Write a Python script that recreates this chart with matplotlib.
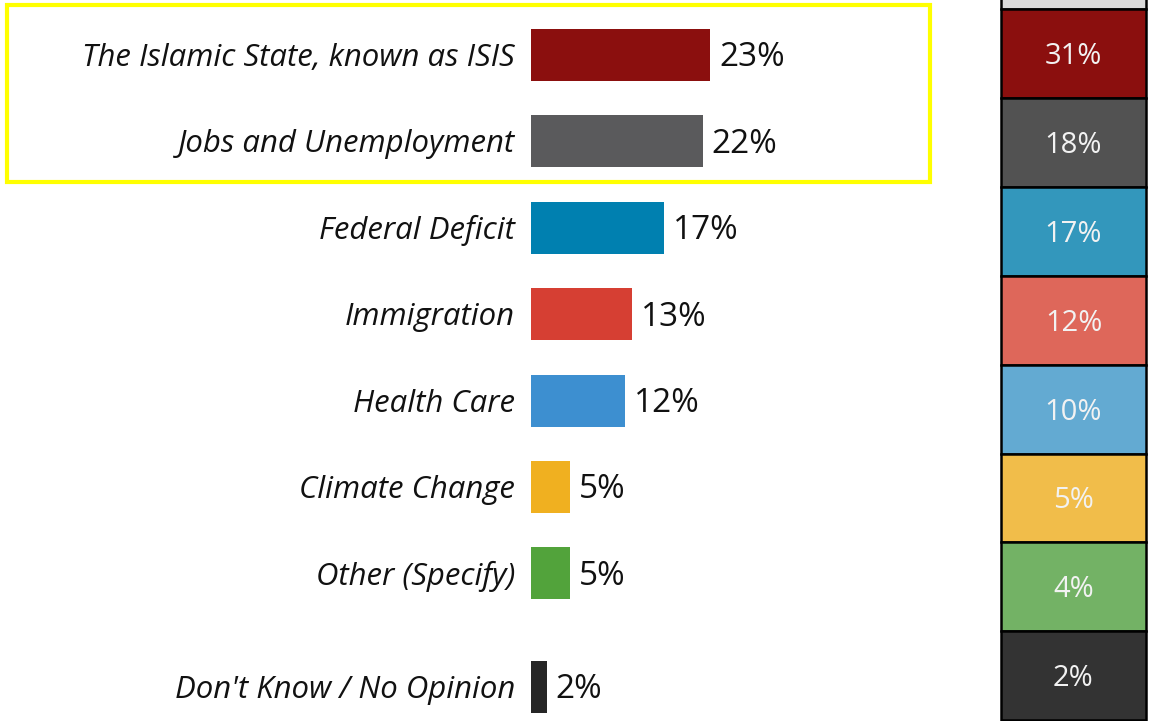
import matplotlib.pyplot as plt
from matplotlib.patches import Rectangle

plt.rcParams['font.family'] = ['Open Sans', 'DejaVu Sans']

# left chart: most important issue
issues = ["The Islamic State, known as ISIS", "Jobs and Unemployment",
          "Federal Deficit", "Immigration", "Health Care",
          "Climate Change", "Other (Specify)", "Don't Know / No Opinion"]
shares = [23, 22, 17, 13, 12, 5, 5, 2]
bar_colors = ["#8B0F0E", "#5A5A5C", "#0080B0", "#D63F33",
              "#3D8FD0", "#F0B020", "#52A33B", "#262626"]

# right column: earlier survey
prev_shares = [31, 18, 17, 12, 10, 5, 4, 2]
prev_colors = ["#8B0F0E", "#525252", "#3397BC", "#DE675A",
               "#63AAD2", "#F1BD4A", "#73B265", "#333333"]

W, H = 1149, 721
fig = plt.figure(figsize=(W / 100, H / 100), dpi=100)

# row positions, last row sits a bit lower
rows = [0, 1, 2, 3, 4, 5, 6, 7.31]
row_px = 86.4
top_px = 55

ax = fig.add_axes([531 / W, 0, 40 * 7.8 / W, 1])
ax.barh(rows, shares, height=0.6, color=bar_colors)
ax.set_xlim(0, 40)
ax.set_ylim((H - top_px) / row_px, -top_px / row_px)
ax.axis("off")

for y, lab, v in zip(rows, issues, shares):
    ax.annotate(lab, xy=(0, y), xytext=(-16, -3), textcoords="offset pixels",
                ha="right", va="center", fontsize=22.4, style="italic",
                color="#111111")
    ax.annotate(f"{v}%", xy=(v, y), xytext=(9, -3), textcoords="offset pixels",
                ha="left", va="center", fontsize=24, color="#111111")

# yellow highlight around the top two rows
fig.patches.append(Rectangle((7 / W, 1 - 182 / H), 923 / W, 177 / H,
                             transform=fig.transFigure, fill=False,
                             edgecolor="#FFFF00", linewidth=3))

# right column of equal-height cells
cell_px = 88.9
ax2 = fig.add_axes([990 / W, 0, 159 / W, 1])
ax2.bar([0], [1], bottom=[-1], width=1, color="#D9D9D9",
        edgecolor="black", linewidth=1.8)
for k, (v, c) in enumerate(zip(prev_shares, prev_colors)):
    ax2.bar([0], [1], bottom=[k], width=1, color=c,
            edgecolor="black", linewidth=1.8)
    ax2.annotate(f"{v}%", xy=(0, k + 0.5), xytext=(0, -3),
                 textcoords="offset pixels", ha="center", va="center",
                 fontsize=21, color="#F2F2F2")
ax2.set_xlim(-0.5 - 11 / 145, 0.5 + 3 / 145)
ax2.set_ylim((H - 9) / cell_px, -9 / cell_px)
ax2.axis("off")

fig.savefig("out.png", dpi=100)
